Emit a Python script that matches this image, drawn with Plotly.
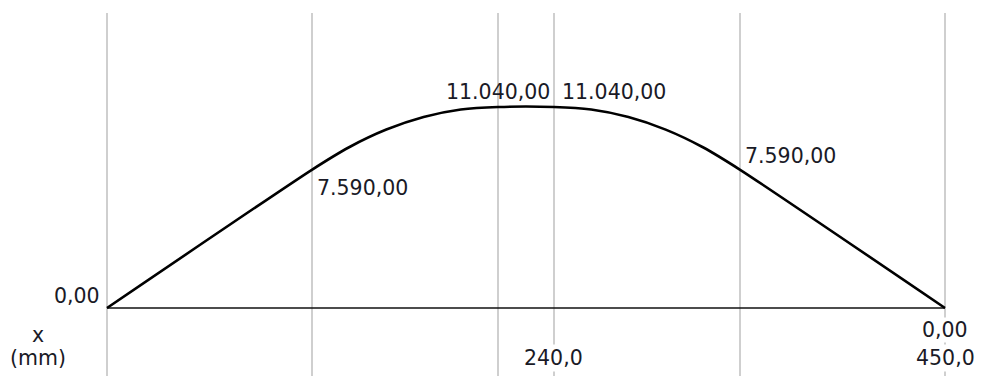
import plotly.graph_objects as go

# Bending moment along the beam (x in mm, M in N·mm)
x_mm = [0, 110, 130, 150, 170, 190, 210, 240, 260, 280, 300, 320, 340, 450]
moment = [0.0, 7590.0, 8830.0, 9800.0, 10490.0, 10900.0, 11040.0,
          11040.0, 10900.0, 10490.0, 9800.0, 8830.0, 7590.0, 0.0]

# Stations that carry a grid line and a value label
stations = [0, 110, 210, 240, 340, 450]
# Stations whose coordinate is printed under the diagram
axis_ticks = [240, 450]
axis_title = ["x", "(mm)"]


def eu(v, dec):
    """Format a number with '.' thousands and ',' decimal separators."""
    s = f"{v:,.{dec}f}"
    return s.replace(",", "_").replace(".", ",").replace("_", ".")


W, H = 982, 376
PX_X0, PX_X1 = 107, 945          # pixel columns of x = 0 and x = L
PX_Y0, PX_YMAX = 308, 107        # pixel rows of M = 0 and M = max
TOP = 13

L = x_mm[-1]
m_max = max(moment)
kx = (PX_X1 - PX_X0) / L
ky = (PX_Y0 - PX_YMAX) / m_max
x_range = [-PX_X0 / kx, L + (W - PX_X1) / kx]
y_range = [-(H - PX_Y0) / ky, (PX_Y0 - TOP) / ky]

FONT = dict(family="DejaVu Sans, Verdana, sans-serif", size=20.5, color="#1a1a26")

fig = go.Figure()

# reference axis of the beam
fig.add_trace(go.Scatter(x=[x_mm[0], x_mm[-1]], y=[0, 0], mode="lines",
                         line=dict(color="#111111", width=1.6),
                         hoverinfo="skip", showlegend=False))
# moment curve
fig.add_trace(go.Scatter(x=x_mm, y=moment, mode="lines",
                         line=dict(color="#000000", width=2.6, shape="spline",
                                   smoothing=0.6),
                         showlegend=False))

m_at = dict(zip(x_mm, moment))

# value labels at the stations
label_style = {
    0:   dict(xanchor="right", yanchor="bottom", xshift=-6, yshift=-1),
    110: dict(xanchor="left", yanchor="top", xshift=4, yshift=-5),
    210: dict(xanchor="center", yanchor="bottom", xshift=0, yshift=2),
    240: dict(xanchor="left", yanchor="bottom", xshift=7, yshift=2),
    340: dict(xanchor="left", yanchor="bottom", xshift=4, yshift=1),
    450: dict(xanchor="center", yanchor="top", xshift=0, yshift=-9),
}
for xs in stations:
    st = label_style[xs]
    fig.add_annotation(x=xs, y=m_at[xs], text=eu(m_at[xs], 2), showarrow=False,
                       font=FONT, bgcolor="white" if xs == 450 else None,
                       borderpad=0, **st)

# coordinate labels below the diagram
for xs in axis_ticks:
    fig.add_annotation(x=xs, y=0, yref="paper", text=eu(xs, 1), showarrow=False,
                       font=FONT, bgcolor="white", borderpad=1,
                       xanchor="center", yanchor="bottom", yshift=4)

# axis title, one annotation per line
for i, line in enumerate(axis_title):
    fig.add_annotation(x=38 / W, xref="paper", y=0, yref="paper", text=line,
                       showarrow=False, font=FONT, xanchor="center", borderpad=0,
                       yanchor="bottom", yshift=5 + 23 * (len(axis_title) - 1 - i))

fig.update_layout(
    width=W, height=H,
    margin=dict(l=0, r=0, t=TOP, b=0),
    paper_bgcolor="white", plot_bgcolor="white",
    xaxis=dict(range=x_range, tickvals=stations, showticklabels=False,
               showgrid=True, gridcolor="#cfcfcf", gridwidth=1.5,
               zeroline=False, showline=False, ticks=""),
    yaxis=dict(range=y_range, showgrid=False, zeroline=False,
               showticklabels=False, showline=False, ticks=""),
)

fig.write_html("out.html")
